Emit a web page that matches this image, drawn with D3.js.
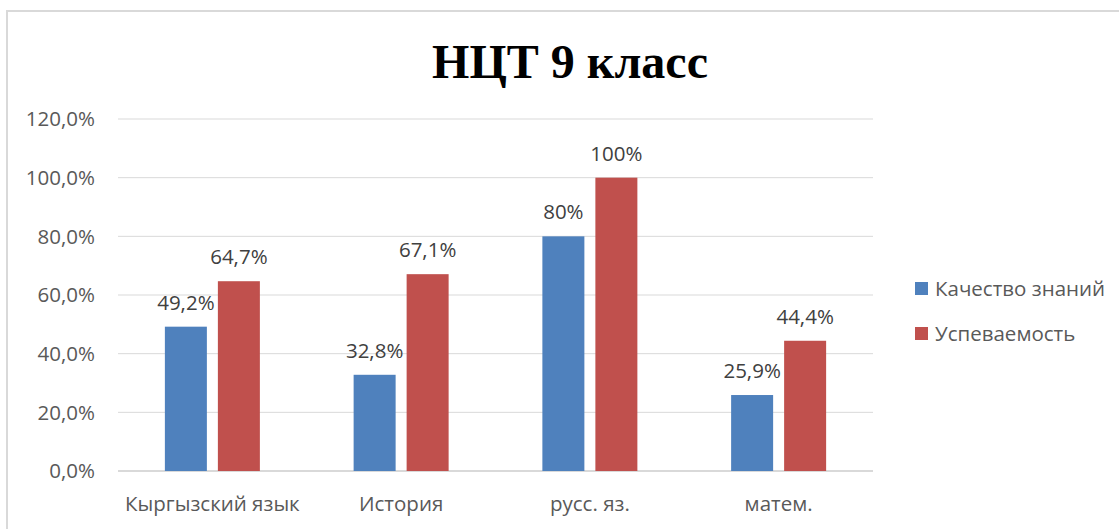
<!DOCTYPE html>
<html>
<head>
<meta charset="utf-8">
<script src="https://cdn.jsdelivr.net/npm/d3@7"></script>
<style>
  body { margin: 0; background: #fff; }
  svg text { font-family: "Open Sans", "Noto Sans", sans-serif; }
</style>
</head>
<body>
<div id="chart"></div>
<script>
const categories = ["Кыргызский язык", "История", "русс. яз.", "матем."];
const seriesNames = ["Качество знаний", "Успеваемость"];
const quality = [49.2, 32.8, 80, 25.9];
const success = [64.7, 67.1, 100, 44.4];
const qualityLabels = ["49,2%", "32,8%", "80%", "25,9%"];
const successLabels = ["64,7%", "67,1%", "100%", "44,4%"];
const yTicks = [0, 20, 40, 60, 80, 100, 120];
const colors = ["#4f81bd", "#c0504d"];

const width = 1119, height = 529;
const margin = { left: 118, right: 246, top: 119, bottom: 58 };
const fs = "20.5px";

const svg = d3.select("#chart").append("svg")
    .attr("width", width)
    .attr("height", height);

// chart border
svg.append("rect")
    .attr("x", 7).attr("y", 11)
    .attr("width", width + 10).attr("height", height)
    .attr("fill", "none")
    .attr("stroke", "#d9d9d9")
    .attr("stroke-width", 2);

svg.append("text")
    .attr("x", 570).attr("y", 78)
    .attr("text-anchor", "middle")
    .style("font-family", "'Liberation Serif', 'Times New Roman', serif")
    .style("font-weight", "bold")
    .style("font-size", "48px")
    .attr("fill", "#000")
    .text("НЦТ 9 класс");

const x = d3.scaleBand()
    .domain(categories)
    .range([margin.left, width - margin.right]);

const y = d3.scaleLinear()
    .domain([0, 120])
    .range([height - margin.bottom, margin.top]);

// gridlines
svg.append("g").selectAll("line")
    .data(yTicks)
    .enter().append("line")
    .attr("x1", margin.left).attr("x2", width - margin.right)
    .attr("y1", d => y(d)).attr("y2", d => y(d))
    .attr("stroke", "#d9d9d9")
    .attr("stroke-width", d => d === 0 ? 2 : 1);

// y labels
svg.append("g").selectAll("text")
    .data(yTicks)
    .enter().append("text")
    .attr("x", 95).attr("y", d => y(d))
    .attr("dy", "0.35em")
    .attr("text-anchor", "end")
    .attr("fill", "#595959")
    .style("font-size", fs)
    .text(d => d3.format(".1f")(d).replace(".", ",") + "%");

// x labels
svg.append("g").selectAll("text")
    .data(categories)
    .enter().append("text")
    .attr("x", d => x(d) + x.bandwidth() / 2)
    .attr("y", 511)
    .attr("text-anchor", "middle")
    .attr("fill", "#595959")
    .style("font-size", fs)
    .text(d => d);

const barW = 42, gap = 11;
const series = [
    { values: quality, labels: qualityLabels, offset: -(barW + gap) / 2 },
    { values: success, labels: successLabels, offset: (barW + gap) / 2 }
];

series.forEach((s, i) => {
    const g = svg.append("g");
    g.selectAll("rect")
        .data(categories)
        .enter().append("rect")
        .attr("x", d => x(d) + x.bandwidth() / 2 + s.offset - barW / 2)
        .attr("y", (d, j) => y(s.values[j]))
        .attr("width", barW)
        .attr("height", (d, j) => y(0) - y(s.values[j]))
        .attr("fill", colors[i]);
    g.selectAll("text")
        .data(categories)
        .enter().append("text")
        .attr("x", d => x(d) + x.bandwidth() / 2 + s.offset)
        .attr("y", (d, j) => y(s.values[j]) - 17)
        .attr("text-anchor", "middle")
        .attr("fill", "#404040")
        .style("font-size", fs)
        .text((d, j) => s.labels[j]);
});

// legend
const legend = svg.append("g").selectAll("g")
    .data(seriesNames)
    .enter().append("g")
    .attr("transform", (d, i) => `translate(915,${282 + i * 45})`);
legend.append("rect")
    .attr("width", 13).attr("height", 13)
    .attr("fill", (d, i) => colors[i]);
legend.append("text")
    .attr("x", 20).attr("y", 7)
    .attr("dy", "0.35em")
    .attr("fill", "#595959")
    .style("font-size", fs)
    .text(d => d);
</script>
</body>
</html>
